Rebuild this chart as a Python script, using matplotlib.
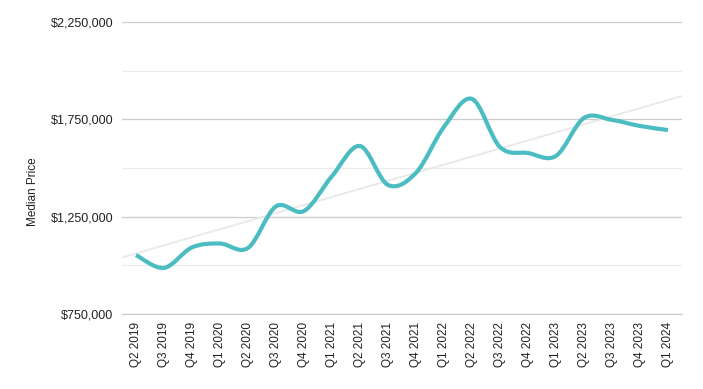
import numpy as np
import matplotlib.pyplot as plt
from matplotlib.path import Path
from matplotlib.patches import PathPatch
from matplotlib.ticker import FuncFormatter, FixedLocator

plt.rcParams['font.family'] = ['Liberation Sans', 'DejaVu Sans']

# Data
quarters = ['Q2 2019', 'Q3 2019', 'Q4 2019', 'Q1 2020', 'Q2 2020', 'Q3 2020',
            'Q4 2020', 'Q1 2021', 'Q2 2021', 'Q3 2021', 'Q4 2021', 'Q1 2022',
            'Q2 2022', 'Q3 2022', 'Q4 2022', 'Q1 2023', 'Q2 2023', 'Q3 2023',
            'Q4 2023', 'Q1 2024']
median_price = [1053000, 987000, 1092000, 1112000, 1089000, 1303000,
                1279000, 1458000, 1613000, 1413000, 1475000, 1711000,
                1855000, 1608000, 1577000, 1562000, 1757000, 1747000,
                1716000, 1695000]
major_ticks = [750000, 1250000, 1750000, 2250000]
minor_ticks = [1000000, 1500000, 2000000]

line_color = '#4bbdc2'

fig = plt.figure(figsize=(7.03, 3.89), dpi=100)
ax = fig.add_axes([0.1735, 0.1928, 0.7965, 0.7506])

x = np.arange(len(quarters))
y = np.array(median_price, dtype=float)

# trendline (least squares), spanning the full axis width
slope, intercept = np.polyfit(x, y, 1)
tx = np.array([-0.5, len(quarters) - 0.5])
ax.plot(tx, slope * tx + intercept, color='#e8e8e8', lw=1.3, zorder=2)

# smoothed line: bezier segments through every data point
verts = [(x[0], y[0])]
codes = [Path.MOVETO]
t = 1 / 6
for i in range(len(x) - 1):
    p0 = (x[max(i - 1, 0)], y[max(i - 1, 0)])
    p1 = (x[i], y[i])
    p2 = (x[i + 1], y[i + 1])
    p3 = (x[min(i + 2, len(x) - 1)], y[min(i + 2, len(x) - 1)])
    c1 = (p1[0] + (p2[0] - p0[0]) * t, p1[1] + (p2[1] - p0[1]) * t)
    c2 = (p2[0] - (p3[0] - p1[0]) * t, p2[1] - (p3[1] - p1[1]) * t)
    verts += [c1, c2, p2]
    codes += [Path.CURVE4] * 3
ax.add_patch(PathPatch(Path(verts, codes), facecolor='none',
                       edgecolor=line_color, lw=3, capstyle='butt',
                       zorder=3))

ax.set_xlim(-0.5, len(quarters) - 0.5)
ax.set_ylim(750000, 2250000)
ax.set_xticks(x)
ax.set_xticklabels(quarters, rotation=90, fontsize=8.5, color='#222222')

ax.yaxis.set_major_locator(FixedLocator(major_ticks))
ax.yaxis.set_minor_locator(FixedLocator(minor_ticks))
ax.yaxis.set_major_formatter(FuncFormatter(lambda v, p: '${:,.0f}'.format(v)))
ax.tick_params(axis='y', which='major', labelsize=9, labelcolor='#222222',
               length=0, pad=6)
ax.tick_params(axis='y', which='minor', length=0)
ax.tick_params(axis='x', length=0, pad=6)

ax.grid(axis='y', which='major', color='#cccccc', lw=0.9)
ax.grid(axis='y', which='minor', color='#ebebeb', lw=0.9)
# baseline gridline sits on the axis edge, draw it unclipped
ax.axhline(major_ticks[0], color='#cccccc', lw=0.9, clip_on=False, zorder=0.5)
ax.set_axisbelow(True)
for s in ax.spines.values():
    s.set_visible(False)

ax.set_ylabel('Median Price', fontsize=8.5, color='#222222')
ax.yaxis.set_label_coords(-0.149, 0.42)

fig.savefig('out.png', dpi=100)
